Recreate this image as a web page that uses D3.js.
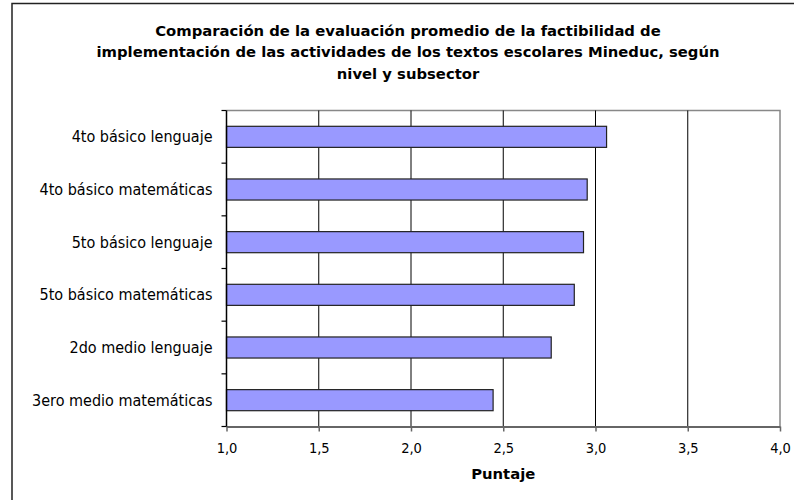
<!DOCTYPE html>
<html>
<head>
<meta charset="utf-8">
<script src="https://d3js.org/d3.v7.min.js"></script>
<style>
body { margin: 0; background: #fff; }
.title { font: bold 14.8px "DejaVu Sans", sans-serif; }
.cat { font: 16px "DejaVu Sans Condensed", sans-serif; }
.x.axis text { font: 14.5px "DejaVu Sans Condensed", sans-serif; fill: #000; }
.x.axis .domain { stroke: #666; stroke-width: 2; }
.x.axis .tick line { stroke: #666; stroke-width: 1.5; }
.grid line { stroke: #000; }
</style>
</head>
<body>
<script>

// categories top to bottom
var categories = ["4to básico lenguaje", "4to básico matemáticas", "5to básico lenguaje",
                  "5to básico matemáticas", "2do medio lenguaje", "3ero medio matemáticas"];
var puntaje = [3.06, 2.955, 2.935, 2.885, 2.76, 2.445];
var xTicks = [1.0, 1.5, 2.0, 2.5, 3.0, 3.5, 4.0];
var titleLines = ["Comparación de la evaluación promedio de la factibilidad de",
                  "implementación de las actividades de los textos escolares Mineduc, según",
                  "nivel y subsector"];

var W = 794, H = 500;
var margin = {top: 110.5, right: 14, bottom: 73.5, left: 226.5};
var width = W - margin.left - margin.right,
    height = H - margin.top - margin.bottom;

var root = d3.select("body").append("svg")
    .attr("width", W)
    .attr("height", H);

// outer chart frame (right and bottom are off the picture)
root.append("rect")
    .attr("x", 12).attr("y", 3.5)
    .attr("width", 800).attr("height", 520)
    .attr("fill", "none")
    .attr("stroke", "#222")
    .attr("stroke-width", 1.5);

root.append("g").selectAll("text")
    .data(titleLines)
  .enter().append("text")
    .attr("class", "title")
    .attr("x", 408)
    .attr("y", function(d, i) { return 36 + i * 21.3 })
    .attr("text-anchor", "middle")
    .text(function(d) { return d });

var svg = root.append("g")
    .attr("transform", "translate(" + margin.left + "," + margin.top + ")");

var x = d3.scaleLinear()
    .domain([1, 4])
    .range([0, width]);

var y = d3.scaleBand()
    .domain(categories)
    .range([0, height])
    .paddingInner(0.6)
    .paddingOuter(0.3);

// plot area border on top and right
svg.append("path")
    .attr("d", "M0,0H" + width + "V" + height)
    .attr("fill", "none")
    .attr("stroke", "#888")
    .attr("stroke-width", 1.5);

// vertical gridlines
svg.append("g")
    .attr("class", "grid")
    .selectAll("line")
    .data(xTicks.slice(1, -1))
  .enter().append("line")
    .attr("x1", function(d) { return x(d) })
    .attr("x2", function(d) { return x(d) })
    .attr("y1", 0)
    .attr("y2", height);

svg.selectAll(".bar")
    .data(puntaje)
  .enter().append("rect")
    .attr("class", "bar")
    .attr("x", x(1))
    .attr("y", function(d, i) { return y(categories[i]) })
    .attr("width", function(d) { return x(d) - x(1) })
    .attr("height", y.bandwidth())
    .attr("fill", "#9999ff")
    .attr("stroke", "#222")
    .attr("stroke-width", 1.2);

var xAxis = d3.axisBottom(x)
    .tickValues(xTicks)
    .tickSize(5)
    .tickSizeOuter(0)
    .tickPadding(11)
    .tickFormat(function(d) { return d3.format(".1f")(d).replace(".", ",") });

svg.append("g")
    .attr("class", "x axis")
    .attr("transform", "translate(0," + height + ")")
    .call(xAxis);

// y axis: line with ticks between categories, labels centered on bars
var step = y.step();
var yAxisG = svg.append("g").attr("class", "y axis");
yAxisG.append("line")
    .attr("x1", 0).attr("x2", 0)
    .attr("y1", 0).attr("y2", height)
    .attr("stroke", "#000")
    .attr("stroke-width", 1.5);
yAxisG.selectAll(".ytick")
    .data(d3.range(categories.length + 1))
  .enter().append("line")
    .attr("x1", -5).attr("x2", 0)
    .attr("y1", function(i) { return i * step })
    .attr("y2", function(i) { return i * step })
    .attr("stroke", "#000")
    .attr("stroke-width", 1.2);
yAxisG.selectAll(".cat")
    .data(categories)
  .enter().append("text")
    .attr("class", "cat")
    .attr("x", -14)
    .attr("y", function(d) { return y(d) + y.bandwidth() / 2 })
    .attr("dy", "0.35em")
    .attr("text-anchor", "end")
    .text(function(d) { return d });

svg.append("text")
    .attr("class", "title")
    .attr("x", width / 2)
    .attr("y", height + 52)
    .attr("text-anchor", "middle")
    .text("Puntaje");

</script>
</body>
</html>
